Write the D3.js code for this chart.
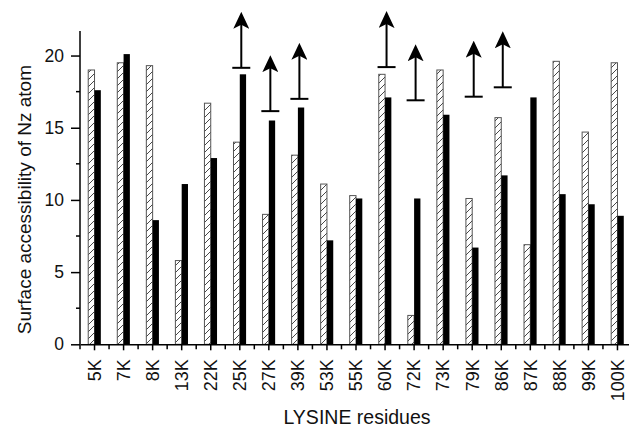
<!DOCTYPE html>
<html>
<head>
<meta charset="utf-8">
<script src="https://cdn.jsdelivr.net/npm/d3@7"></script>
<style>
  body { margin: 0; background: #fff; }
  text { font-family: "Liberation Sans", Arial, sans-serif; fill: #111; }
</style>
</head>
<body>
<div id="chart"></div>
<script>
// lysine residues and the two accessibility series
const residues = ["5K","7K","8K","13K","22K","25K","27K","39K","53K","55K","60K","72K","73K","79K","86K","87K","88K","99K","100K"];
const hatchedVals = [19.0,19.5,19.3,5.8,16.7,14.0,9.0,13.1,11.1,10.3,18.7,2.0,19.0,10.1,15.7,6.9,19.6,14.7,19.5];
const solidVals   = [17.6,20.1,8.6,11.1,12.9,18.7,15.5,16.4,7.2,10.1,17.1,10.1,15.9,6.7,11.7,17.1,10.4,9.7,8.9];
// residues with a lower bound arrow and the value where the arrow starts
const arrowResidues = ["25K","27K","39K","60K","72K","79K","86K"];
const arrowVals     = [19.15,16.15,17.0,19.2,16.9,17.15,17.8];
const yTicks = [0,5,10,15,20];

const width = 629, height = 429;
const margin = {top: 31, right: -3, bottom: 84.7, left: 80};

const svg = d3.select("#chart")
  .append("svg")
  .attr("width", width)
  .attr("height", height);

const defs = svg.append("defs");
defs.append("pattern")
  .attr("id", "hatch")
  .attr("patternUnits", "userSpaceOnUse")
  .attr("width", 7)
  .attr("height", 7)
  .append("path")
  .attr("d", "M0,7 L7,0 M-2,2 L2,-2 M5,9 L9,5")
  .attr("stroke", "#333")
  .attr("stroke-width", 0.9);

const arrowHead = defs.append("marker")
  .attr("id", "head")
  .attr("viewBox", "0 0 16 17")
  .attr("refX", 8)
  .attr("refY", 4)
  .attr("markerWidth", 16)
  .attr("markerHeight", 17)
  .attr("markerUnits", "userSpaceOnUse")
  .attr("orient", "0");
arrowHead.append("path")
  .attr("d", "M8,0 L16,17 L8,13 L0,17 Z")
  .attr("fill", "#000");

let xScale = d3.scaleBand()
  .domain(residues)
  .range([margin.left, width - margin.right]);

let yScale = d3.scaleLinear()
  .domain([0, 21.7])
  .range([height - margin.bottom, margin.top]);

const bw = 6.3;

// hatched bars
svg.selectAll(".hbar")
  .data(residues)
  .enter()
  .append("rect")
    .attr("class", "hbar")
    .attr("x", (d) => xScale(d) + xScale.bandwidth()/2 - bw)
    .attr("y", (d,i) => yScale(hatchedVals[i]))
    .attr("width", bw)
    .attr("height", (d,i) => yScale(0) - yScale(hatchedVals[i]))
    .attr("fill", "url(#hatch)")
    .attr("stroke", "#555")
    .attr("stroke-width", 1);

// black bars
svg.selectAll(".sbar")
  .data(residues)
  .enter()
  .append("rect")
    .attr("class", "sbar")
    .attr("x", (d) => xScale(d) + xScale.bandwidth()/2)
    .attr("y", (d,i) => yScale(solidVals[i]))
    .attr("width", bw)
    .attr("height", (d,i) => yScale(0) - yScale(solidVals[i]))
    .attr("fill", "#000");

// arrows
const arrows = svg.selectAll(".arrow")
  .data(arrowResidues)
  .enter()
  .append("g")
    .attr("class", "arrow")
    .attr("transform", (d,i) => `translate(${xScale(d) + xScale.bandwidth()/2 + 1.5},${yScale(arrowVals[i])})`);
arrows.append("line")
  .attr("x1", -9).attr("x2", 9)
  .attr("stroke", "#000").attr("stroke-width", 2);
arrows.append("line")
  .attr("y1", 0).attr("y2", -52)
  .attr("stroke", "#000").attr("stroke-width", 2)
  .attr("marker-end", "url(#head)");

// y axis
const yAxis = svg.append("g")
  .attr("transform", `translate(${margin.left},0)`)
  .call(d3.axisLeft(yScale).tickValues(yTicks).tickSize(9).tickPadding(7))
  .attr("font-size", "17.5px")
  .attr("font-family", null);
yAxis.select(".domain").attr("stroke-width", 1.5).attr("d", `M0,${yScale(0)}V${margin.top}`);
yAxis.selectAll(".tick line").attr("stroke-width", 1.5);
yAxis.selectAll(".minor")
  .data([2.5,7.5,12.5,17.5])
  .enter()
  .append("line")
    .attr("class", "minor")
    .attr("x1", -4).attr("x2", 0)
    .attr("y1", (d) => yScale(d)).attr("y2", (d) => yScale(d))
    .attr("stroke", "#000").attr("stroke-width", 1.5);

// x axis
const xAxis = svg.append("g")
  .attr("transform", `translate(0,${yScale(0)})`)
  .call(d3.axisBottom(xScale).tickSize(6).tickSizeOuter(0))
  .attr("font-size", "18px")
  .attr("font-family", null);
xAxis.select(".domain").attr("stroke-width", 1.5);
xAxis.selectAll(".tick line").attr("stroke-width", 1.5);
xAxis.selectAll(".tick text")
  .attr("transform", "rotate(-90)")
  .attr("x", -15)
  .attr("y", 0)
  .attr("dy", "0.35em")
  .attr("text-anchor", "end");
xAxis.selectAll(".bound")
  .data(residues)
  .enter()
  .append("line")
    .attr("class", "bound")
    .attr("x1", (d) => xScale(d)).attr("x2", (d) => xScale(d))
    .attr("y1", 0).attr("y2", 5)
    .attr("stroke", "#000").attr("stroke-width", 1.5);

// axis titles
svg.append("text")
  .attr("transform", `translate(31,${(yScale(0) + margin.top)/2 + 12}) rotate(-90)`)
  .attr("text-anchor", "middle")
  .attr("font-size", "19px")
  .text("Surface accessibility of Nz atom");

svg.append("text")
  .attr("x", 357)
  .attr("y", 424)
  .attr("text-anchor", "middle")
  .attr("font-size", "19.5px")
  .text("LYSINE residues");
</script>
</body>
</html>
